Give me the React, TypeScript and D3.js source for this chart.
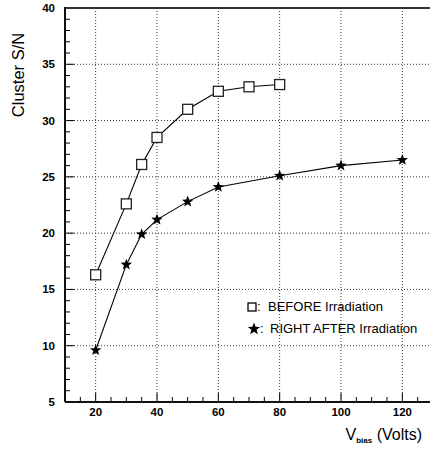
import React from "react";
import * as d3 from "d3";

const beforeX = [20, 30, 35, 40, 50, 60, 70, 80];
const beforeY = [16.3, 22.6, 26.1, 28.5, 31.0, 32.6, 33.0, 33.2];
const afterX = [20, 30, 35, 40, 50, 60, 80, 100, 120];
const afterY = [9.6, 17.2, 19.9, 21.2, 22.8, 24.1, 25.1, 26.0, 26.5];
const xMajor = [20, 40, 60, 80, 100, 120];
const yMajor = [5, 10, 15, 20, 25, 30, 35, 40];

const W = 430, H = 449;
const L = 65, R = 433, T = 8, B = 402;

function starPath(cx: number, cy: number, r: number) {
  const pts: string[] = [];
  for (let i = 0; i < 10; i++) {
    const rr = i % 2 === 0 ? r : r * 0.42;
    const a = -Math.PI / 2 + (i * Math.PI) / 5;
    pts.push(`${cx + rr * Math.cos(a)},${cy + rr * Math.sin(a)}`);
  }
  return "M" + pts.join("L") + "Z";
}

export default function App() {
  const x = d3.scaleLinear().domain([10, 130]).range([L, R]);
  const y = d3.scaleLinear().domain([5, 40]).range([B, T]);
  const line = d3.line<[number, number]>().x(d => x(d[0])).y(d => y(d[1]));
  const bData: [number, number][] = beforeX.map((v, i) => [v, beforeY[i]]);
  const aData: [number, number][] = afterX.map((v, i) => [v, afterY[i]]);
  const xMinor = d3.range(15, 130, 5).filter(v => !xMajor.includes(v));
  const yMinor = d3.range(6, 40, 1).filter(v => !yMajor.includes(v));
  const font = "'Liberation Sans', Arial, sans-serif";
  return (
    <svg width={W} height={H} style={{ position: "absolute", left: 0, top: 0, background: "#fff", overflow: "hidden" }}>
      <rect width={W} height={H} fill="#fff" />
      {xMajor.map(v => (
        <line key={"gx" + v} x1={x(v)} x2={x(v)} y1={T} y2={B} stroke="#333" strokeWidth={1} strokeDasharray="1,2" />
      ))}
      {yMajor.filter(v => v > 5 && v < 40).map(v => (
        <line key={"gy" + v} x1={L} x2={R} y1={y(v)} y2={y(v)} stroke="#333" strokeWidth={1} strokeDasharray="1,2" />
      ))}
      {xMajor.map(v => (
        <line key={"tx" + v} x1={x(v)} x2={x(v)} y1={B} y2={B - 9} stroke="#000" strokeWidth={1} />
      ))}
      {xMinor.map(v => (
        <line key={"mx" + v} x1={x(v)} x2={x(v)} y1={B} y2={B - 5} stroke="#000" strokeWidth={1} />
      ))}
      {yMajor.map(v => (
        <line key={"ty" + v} x1={L} x2={L + 9} y1={y(v)} y2={y(v)} stroke="#000" strokeWidth={1} />
      ))}
      {yMinor.map(v => (
        <line key={"my" + v} x1={L} x2={L + 5} y1={y(v)} y2={y(v)} stroke="#000" strokeWidth={1} />
      ))}
      <line x1={L} x2={W} y1={T} y2={T} stroke="#333" strokeWidth={2} />
      <line x1={L} x2={L} y1={T - 1} y2={B} stroke="#111" strokeWidth={2} />
      <line x1={L} x2={W} y1={B} y2={B} stroke="#111" strokeWidth={2} />
      {xMajor.map(v => (
        <text key={"lx" + v} x={x(v)} y={B + 14} textAnchor="middle" fontFamily={font} fontWeight="bold" fontSize={11.5}>{v}</text>
      ))}
      {yMajor.map(v => (
        <text key={"ly" + v} x={L - 10} y={y(v) + 4} textAnchor="end" fontFamily={font} fontWeight="bold" fontSize={11.5}>{v}</text>
      ))}
      <path d={line(bData) || ""} fill="none" stroke="#000" strokeWidth={1.1} />
      <path d={line(aData) || ""} fill="none" stroke="#000" strokeWidth={1.1} />
      {bData.map((d, i) => (
        <rect key={"b" + i} x={x(d[0]) - 5} y={y(d[1]) - 5} width={10} height={10} fill="#fff" stroke="#222" strokeWidth={1.3} />
      ))}
      {aData.map((d, i) => (
        <path key={"a" + i} d={starPath(x(d[0]), y(d[1]), 6)} fill="#000" />
      ))}
      <text transform={`translate(24,75) rotate(-90)`} textAnchor="middle" fontFamily={font} fontSize={16.5}>Cluster S/N</text>
      <text x={422} y={440} textAnchor="end" fontFamily={font} fontSize={16}>
        V<tspan fontSize={8} fontWeight="bold" dy={3}>bias</tspan><tspan dy={-3}> (Volts)</tspan>
      </text>
      <rect x={248} y={303} width={8} height={8} fill="#fff" stroke="#000" strokeWidth={1.3} />
      <text x={257} y={311} fontFamily={font} fontSize={13}>:</text>
      <text x={268} y={311} fontFamily={font} fontSize={13}>BEFORE Irradiation</text>
      <path d={starPath(254, 329, 6.5)} fill="#000" />
      <text x={260} y={333} fontFamily={font} fontSize={13}>:</text>
      <text x={270} y={333} fontFamily={font} fontSize={13}>RIGHT AFTER Irradiation</text>
    </svg>
  );
}
